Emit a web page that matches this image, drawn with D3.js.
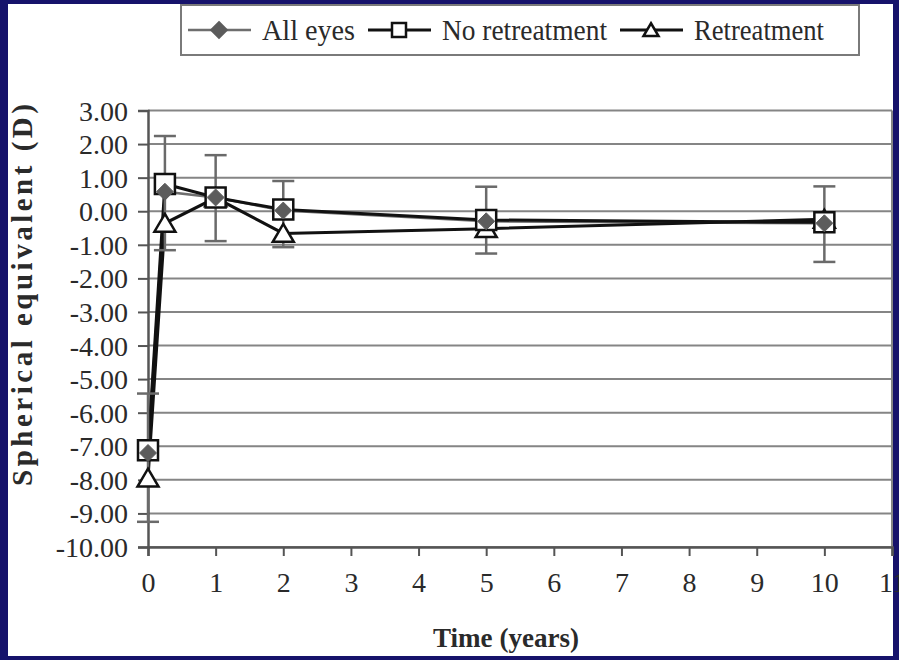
<!DOCTYPE html>
<html lang="en">
<head>
<meta charset="UTF-8">
<title>Spherical equivalent over time</title>
<script src="https://d3js.org/d3.v7.min.js"></script>
<style>
  html, body { margin: 0; padding: 0; background: #16126b; }
  svg { display: block; }
  text { font-family: "Liberation Serif", "Times New Roman", serif; fill: #2a2a2a; }
</style>
</head>
<body>
<svg id="chart" width="899" height="660"></svg>
<script>
// data
const timePoints = [0, 0.25, 1, 2, 5, 10];
const allEyes = [-7.2, 0.58, 0.41, 0.02, -0.30, -0.36];
const noRetreatment = [-7.12, 0.81, 0.41, 0.05, -0.26, -0.33];
const retreatment = [-7.95, -0.36, 0.40, -0.66, -0.52, -0.24];
// error bar ends (all eyes)
const errUpper = [-5.43, 2.24, 1.67, 0.90, 0.73, 0.74];
const errLower = [-9.25, -1.16, -0.89, -1.07, -1.26, -1.51];

const seriesNames = ["All eyes", "No retreatment", "Retreatment"];
const xTicks = d3.range(0, 12);
const yTicks = d3.range(-10, 4);

const svg = d3.select("#chart");

// white page inside navy frame
svg.append("rect").attr("x", 8).attr("y", 4).attr("width", 885).attr("height", 652).attr("fill", "#fff");

const plotL = 148, plotR = 892, plotT = 110.5, plotB = 547;
const x = d3.scaleLinear().domain([0, 11]).range([plotL, plotR]);
const y = d3.scaleLinear().domain([-10, 3]).range([plotB, plotT]);

// grid
svg.append("g").selectAll("line").data(yTicks).join("line")
  .attr("x1", plotL).attr("x2", plotR)
  .attr("y1", d => y(d)).attr("y2", d => y(d))
  .attr("stroke", "#858585").attr("stroke-width", 2);
svg.append("line").attr("x1", plotR).attr("x2", plotR).attr("y1", plotT).attr("y2", plotB)
  .attr("stroke", "#858585").attr("stroke-width", 2);

// axes (plain hyphen for negatives, like the original)
const fmtY = d => d3.format(".2f")(d).replace("\u2212", "-");
const yAxis = svg.append("g").attr("transform", `translate(${plotL},0)`)
  .call(d3.axisLeft(y).tickValues(yTicks).tickSize(10).tickPadding(10).tickFormat(fmtY));
const xAxis = svg.append("g").attr("transform", `translate(0,${plotB})`)
  .call(d3.axisBottom(x).tickValues(xTicks).tickSize(9).tickPadding(16).tickFormat(d3.format("d")));
[yAxis, xAxis].forEach(a => {
  a.select(".domain").attr("stroke", "#555").attr("stroke-width", 2.5);
  a.selectAll(".tick line").attr("stroke", "#555").attr("stroke-width", 2);
  a.selectAll(".tick text").attr("font-family", "Liberation Serif").attr("font-size", 28).attr("fill", "#2a2a2a");
});
yAxis.selectAll(".tick text").attr("dy", "0.34em");
xAxis.selectAll(".tick text").attr("dy", "0.72em");

// axis titles
svg.append("text").attr("x", 506).attr("y", 647).attr("text-anchor", "middle")
  .attr("font-size", 27).attr("font-weight", "bold").attr("textLength", 146)
  .attr("lengthAdjust", "spacingAndGlyphs").text("Time (years)");
svg.append("text").attr("transform", "translate(32,295) rotate(-90)").attr("text-anchor", "middle")
  .attr("font-size", 29).attr("font-weight", "bold").attr("textLength", 382)
  .attr("lengthAdjust", "spacing").text("Spherical equivalent (D)");

// lines
const line = d3.line().x((d, i) => x(timePoints[i])).y(d => y(d));
svg.append("path").datum(allEyes).attr("d", line).attr("fill", "none").attr("stroke", "#6e6e6e").attr("stroke-width", 2.5);
svg.append("path").datum(noRetreatment).attr("d", line).attr("fill", "none").attr("stroke", "#111").attr("stroke-width", 3);
svg.append("path").datum(retreatment).attr("d", line).attr("fill", "none").attr("stroke", "#111").attr("stroke-width", 3);

// error bars
const eb = svg.append("g").attr("stroke", "#6a6a6a").attr("stroke-width", 2.5);
timePoints.forEach((t, i) => {
  eb.append("line").attr("x1", x(t)).attr("x2", x(t)).attr("y1", y(errUpper[i])).attr("y2", y(errLower[i]));
  [errUpper[i], errLower[i]].forEach(v => {
    eb.append("line").attr("x1", x(t) - 11).attr("x2", x(t) + 11).attr("y1", y(v)).attr("y2", y(v));
  });
});

// markers
const triangle = s => `M0,${-s * 0.45}L${s / 2},${s * 0.4}L${-s / 2},${s * 0.4}Z`;
const square = s => `M${-s / 2},${-s / 2}h${s}v${s}h${-s}Z`;
const diamond = s => `M0,${-s / 2}L${s / 2},0L0,${s / 2}L${-s / 2},0Z`;

function markers(vals, pathFn, size, fill, stroke, sw) {
  svg.append("g").selectAll("path").data(vals).join("path")
    .attr("transform", (d, i) => `translate(${x(timePoints[i])},${y(d)})`)
    .attr("d", pathFn(size)).attr("fill", fill).attr("stroke", stroke).attr("stroke-width", sw);
}
markers(retreatment, triangle, 21, "#fff", "#111", 2.5);
markers(noRetreatment, square, 20, "#fff", "#111", 2.5);
markers(allEyes, diamond, 17, "#5c5c5c", "#5c5c5c", 1);

// legend
const lg = svg.append("g");
lg.append("rect").attr("x", 181).attr("y", 5).attr("width", 678).attr("height", 50)
  .attr("fill", "#fff").attr("stroke", "#7a7a7a").attr("stroke-width", 2);
const legendX = [188, 368, 620];
const legendW = [93, 165, 130];
const legendStyle = [
  { stroke: "#6e6e6e", sw: 2.5, shape: diamond, size: 15, fill: "#5c5c5c", ms: "#5c5c5c" },
  { stroke: "#111", sw: 3, shape: square, size: 14, fill: "#fff", ms: "#111" },
  { stroke: "#111", sw: 3, shape: triangle, size: 15, fill: "#fff", ms: "#111" }
];
seriesNames.forEach((name, i) => {
  const lx = legendX[i], st = legendStyle[i];
  lg.append("line").attr("x1", lx).attr("x2", lx + 63).attr("y1", 30).attr("y2", 30)
    .attr("stroke", st.stroke).attr("stroke-width", st.sw);
  lg.append("path").attr("transform", `translate(${lx + 31},30)`).attr("d", st.shape(st.size))
    .attr("fill", st.fill).attr("stroke", st.ms).attr("stroke-width", 2.5);
  lg.append("text").attr("x", lx + 74).attr("y", 40).attr("font-size", 29)
    .attr("textLength", legendW[i]).attr("lengthAdjust", "spacingAndGlyphs").text(name);
});
</script>
</body>
</html>
